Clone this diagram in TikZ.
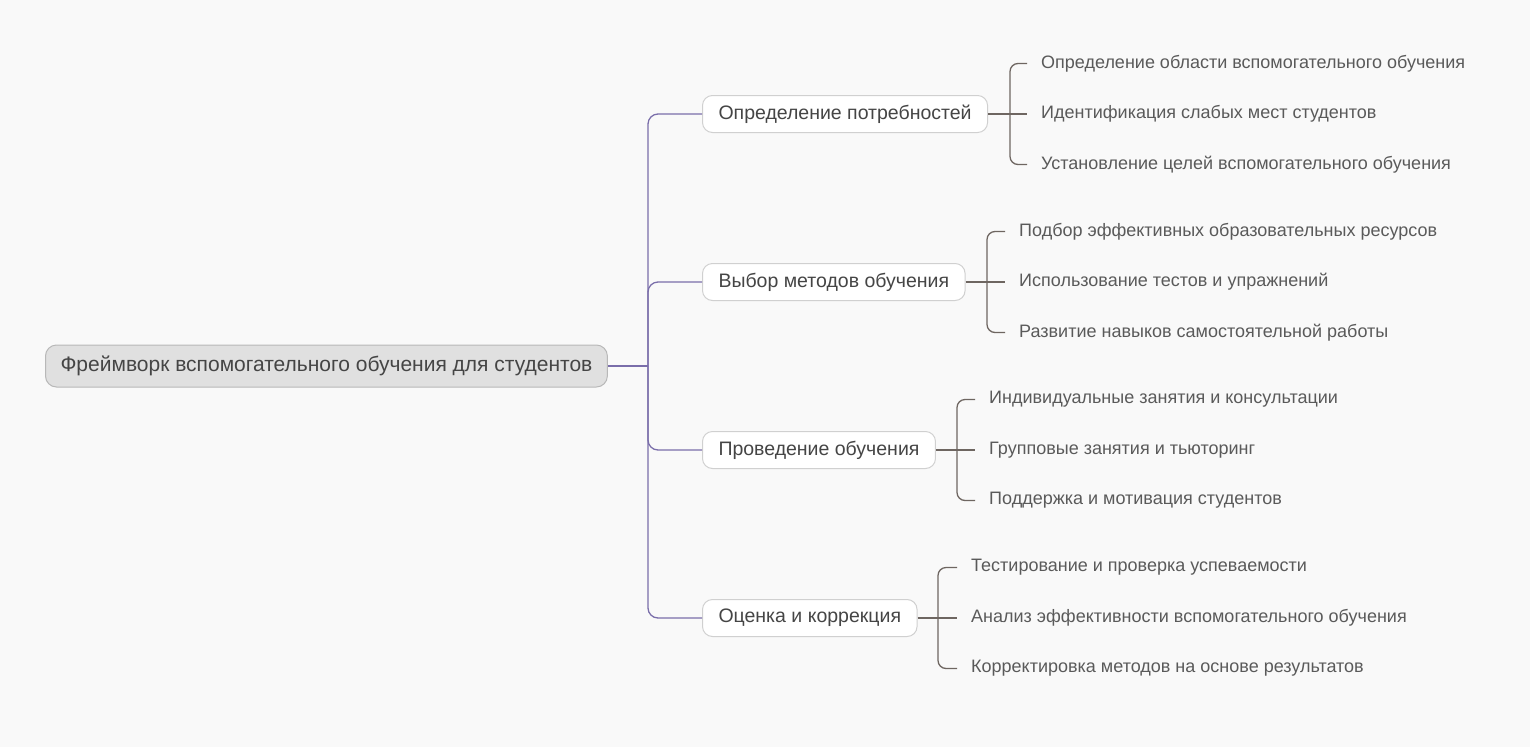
\documentclass[tikz,border=0pt]{standalone}
\usepackage{fontspec}
\setmainfont{Liberation Sans}
\usetikzlibrary{positioning}
\definecolor{bgcol}{HTML}{F9F9F9}
\definecolor{rootfill}{HTML}{E0E0E0}
\definecolor{rootline}{HTML}{B8B8B8}
\definecolor{boxline}{HTML}{D0D0D0}
\definecolor{textcol}{HTML}{454545}
\definecolor{leafcol}{HTML}{5A5A5A}
\definecolor{mainpurple}{HTML}{7A6EAA}
\definecolor{subgray}{HTML}{6E6661}
\tikzset{
  rootbox/.style={draw=rootline, fill=rootfill, line width=1pt, rounded corners=11pt,
    anchor=west, minimum height=42pt, inner xsep=15pt, text=textcol,
    font=\fontsize{21}{25}\selectfont},
  branchbox/.style={draw=boxline, fill=white, line width=1pt, rounded corners=10pt,
    anchor=west, minimum height=37pt, inner xsep=16pt, text=textcol,
    font=\fontsize{19.5}{23}\selectfont},
  leaf/.style={anchor=west, inner xsep=14pt, inner ysep=0pt, text=leafcol,
    font=\fontsize{18}{22}\selectfont},
  mainline/.style={draw=mainpurple, line width=1.3pt, rounded corners=10pt},
  subline/.style={draw=subgray, line width=1.3pt, rounded corners=8pt}
}
\begin{document}
\begin{tikzpicture}[x=1pt,y=-1pt]
  \fill[bgcol] (0,0) rectangle (1530,747);
  % root and main branches
  \node[rootbox] (root) at (45,366) {Фреймворк вспомогательного обучения для студентов};
  \node[branchbox] (need) at (702,114) {Определение потребностей};
  \node[branchbox] (method) at (702,282) {Выбор методов обучения};
  \node[branchbox] (teach) at (702,450) {Проведение обучения};
  \node[branchbox] (eval) at (702,618) {Оценка и коррекция};
  \coordinate (hub) at (648,366);
  \draw[mainline] (root.east) -- (hub);
  \foreach \b in {need,method,teach,eval}
    \draw[mainline] (hub) |- (\b.west);
  % leaves
  \coordinate (kneed) at (1010,114);
  \node[leaf] (need1) at (1027,63.5) {Определение области вспомогательного обучения};
  \node[leaf] (need2) at (1027,114) {Идентификация слабых мест студентов};
  \node[leaf] (need3) at (1027,164.5) {Установление целей вспомогательного обучения};
  \coordinate (kmethod) at (987,282);
  \node[leaf] (method1) at (1005,231.5) {Подбор эффективных образовательных ресурсов};
  \node[leaf] (method2) at (1005,282) {Использование тестов и упражнений};
  \node[leaf] (method3) at (1005,332.5) {Развитие навыков самостоятельной работы};
  \coordinate (kteach) at (957,450);
  \node[leaf] (teach1) at (975,399.5) {Индивидуальные занятия и консультации};
  \node[leaf] (teach2) at (975,450) {Групповые занятия и тьюторинг};
  \node[leaf] (teach3) at (975,500.5) {Поддержка и мотивация студентов};
  \coordinate (keval) at (938,618);
  \node[leaf] (eval1) at (957,567.5) {Тестирование и проверка успеваемости};
  \node[leaf] (eval2) at (957,618) {Анализ эффективности вспомогательного обучения};
  \node[leaf] (eval3) at (957,668.5) {Корректировка методов на основе результатов};
  \foreach \b in {need,method,teach,eval} {
    \draw[subline] (\b.east) -- (\b2.west);
    \draw[subline] (k\b) |- (\b1.west);
    \draw[subline] (k\b) |- (\b3.west);
  }
\end{tikzpicture}
\end{document}
